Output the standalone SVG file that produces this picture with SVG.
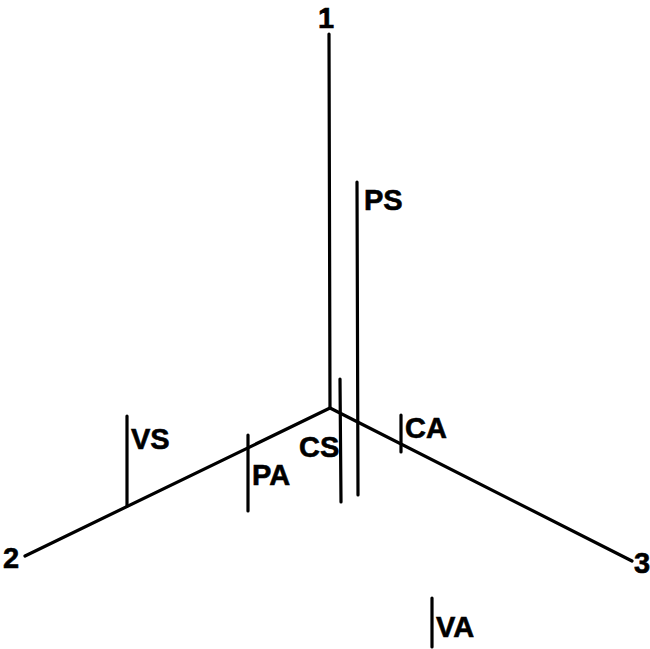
<svg xmlns="http://www.w3.org/2000/svg" width="650" height="649" viewBox="0 0 650 649">
<style>
.ln{stroke:#000;stroke-width:3.2;fill:none;stroke-linecap:round}
.t{font-family:"Liberation Sans",Arial,sans-serif;font-weight:bold;font-size:29px;fill:#000;stroke:#000;stroke-width:0.6}
</style>
<rect width="650" height="649" fill="#fff"/>
<g id="connectors">
<line class="ln" x1="329" y1="34" x2="330" y2="408"/>
<line class="ln" x1="330" y1="408" x2="25" y2="556"/>
<line class="ln" x1="330" y1="408" x2="632" y2="561"/>
</g>
<g id="axis1"><text class="t" x="326" y="28" text-anchor="middle">1</text></g>
<g id="axis2"><text class="t" x="11" y="568" text-anchor="middle">2</text></g>
<g id="axis3"><text class="t" x="634" y="573">3</text></g>
<g id="PS"><line class="ln" x1="357" y1="182" x2="358" y2="495"/><text class="t" x="364" y="210">PS</text></g>
<g id="CS"><line class="ln" x1="340" y1="379" x2="341" y2="502"/><text class="t" x="299" y="457">CS</text></g>
<g id="VS"><line class="ln" x1="127" y1="416" x2="127" y2="506"/><text class="t" x="131" y="449">VS</text></g>
<g id="PA"><line class="ln" x1="248" y1="435" x2="248" y2="511"/><text class="t" x="252" y="485">PA</text></g>
<g id="CA"><line class="ln" x1="401" y1="415" x2="401" y2="452"/><text class="t" x="405" y="438">CA</text></g>
<g id="VA"><line class="ln" x1="432" y1="598" x2="432" y2="647"/><text class="t" x="436" y="637">VA</text></g>
</svg>
